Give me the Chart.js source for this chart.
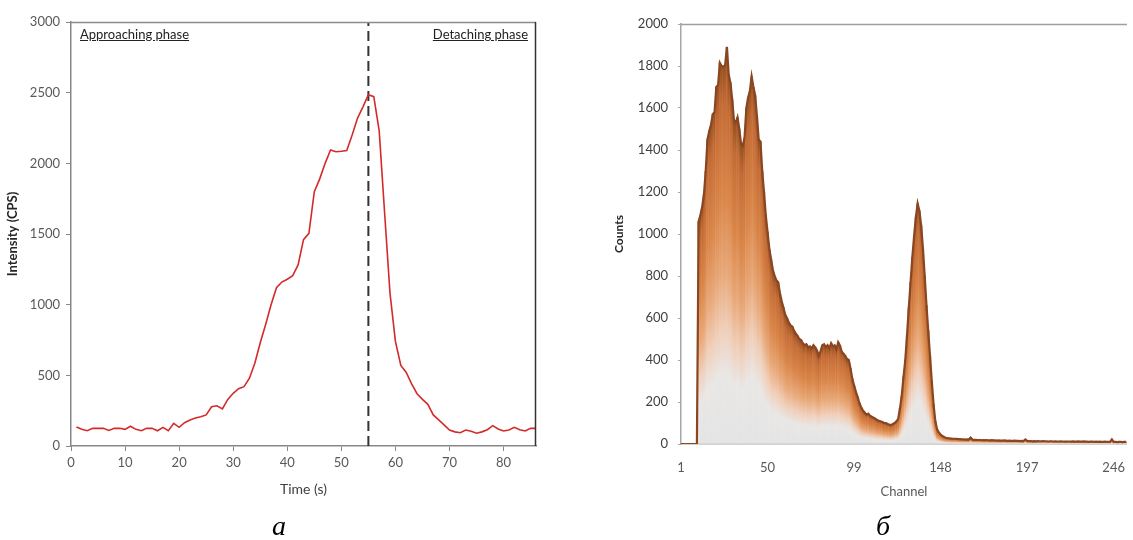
<!DOCTYPE html>
<html><head><meta charset="utf-8">
<script src="https://cdn.jsdelivr.net/npm/chart.js@4.4.0/dist/chart.umd.min.js"></script>
<style>
html,body{margin:0;padding:0;background:#fff;width:1133px;height:540px;overflow:hidden;}
#ca{position:absolute;left:0;top:0;}
#cb{position:absolute;left:566px;top:0;}
.lab{position:absolute;top:512px;font-family:"Liberation Serif";font-style:italic;font-size:28px;color:#000;line-height:1;}
.ann{position:absolute;top:28px;font-family:Lato;font-size:13px;color:#222;text-decoration:underline;line-height:1;}
</style></head>
<body>
<canvas id="ca" width="566" height="540"></canvas>
<canvas id="cb" width="567" height="540"></canvas>
<div class="ann" style="left:80px">Approaching phase</div>
<div class="ann" style="right:605px">Detaching phase</div>
<div class="lab" style="left:272px">а</div>
<div class="lab" style="left:876px">б</div>
<script>
// ---------- chart a data ----------
const timeS = [1,2,3,4,5,6,7,8,9,10,11,12,13,14,15,16,17,18,19,20,21,22,23,24,25,26,27,28,29,30,
  31,32,33,34,35,36,37,38,39,40,41,42,43,44,45,46,47,48,49,50,51,52,53,54,55,56,57,58,59,60,
  61,62,63,64,65,66,67,68,69,70,71,72,73,74,75,76,77,78,79,80,81,82,83,84,85,86];
const intensity = [135,118,108,125,125,125,110,125,125,118,
  140,118,108,125,125,108,132,108,160,132,
  165,184,198,207,220,278,285,262,330,373,
  405,420,480,585,730,860,1000,1120,1160,1180,
  1205,1281,1460,1505,1800,1890,2000,2094,2082,2085,
  2090,2200,2320,2400,2485,2472,2230,1650,1080,740,
  570,520,440,370,330,295,220,185,150,113,
  100,94,113,105,90,100,115,144,120,106,
  113,132,115,106,125,125];
const markerTime = 55;
const timeTicks = [0,10,20,30,40,50,60,70,80];
const intensityTicks = [0,500,1000,1500,2000,2500,3000];

// ---------- chart b data ----------
const counts = [0,0,0,0,0,0,0,0,0,0,
  1060,1090,1130,1190,1300,1450,1490,1520,1570,1580,
  1700,1710,1815,1800,1795,1805,1890,1760,1720,1640,
  1540,1530,1555,1500,1430,1420,1460,1600,1650,1680,
  1750,1700,1660,1560,1450,1440,1300,1200,1090,1010,
  930,880,830,800,780,770,720,680,650,615,
  600,580,565,560,540,525,515,500,495,480,
  470,475,460,465,455,470,460,445,420,440,
  470,475,460,470,455,480,465,470,450,485,
  470,440,430,420,405,400,360,310,280,250,
  225,195,175,160,150,140,145,135,130,125,
  120,115,110,108,105,100,100,95,92,90,
  95,100,108,120,170,230,320,400,520,650,
  770,890,990,1080,1145,1110,1040,930,800,660,
  540,420,300,190,110,70,55,45,38,33,
  30,28,27,26,25,25,24,23,23,22,
  22,21,22,21,30,21,20,20,19,19,
  19,18,18,19,18,17,18,17,17,16,
  17,16,16,17,16,15,16,15,15,16,
  15,15,14,15,14,22,15,14,14,13,
  14,13,14,13,13,14,13,13,12,13,
  13,12,13,12,12,13,12,12,11,12,
  12,11,12,11,11,12,11,11,12,11,
  11,10,11,11,10,11,10,11,10,10,
  11,10,10,10,22,10,10,9,10,10,
  9,10,10];
const channels = counts.map((_, i) => i + 1);
const channelTicks = [1,50,99,148,197,246];
const countTicks = [0,200,400,600,800,1000,1200,1400,1600,1800,2000];

Chart.defaults.font.family = 'Lato';
Chart.defaults.animation = false;
const plain = v => String(v);

const frame = (topColor, rightColor) => ({
  id: 'frame',
  afterDatasetsDraw(chart) {
    const {ctx, chartArea: a} = chart;
    ctx.save();
    ctx.lineWidth = 1.5;
    ctx.strokeStyle = topColor;
    ctx.beginPath(); ctx.moveTo(a.left, a.top + 0.5); ctx.lineTo(a.right, a.top + 0.5); ctx.stroke();
    if (rightColor) {
      ctx.strokeStyle = rightColor;
      ctx.beginPath(); ctx.moveTo(a.right - 0.5, a.top); ctx.lineTo(a.right - 0.5, a.bottom); ctx.stroke();
    }
    ctx.restore();
  }
});

new Chart(document.getElementById('ca'), {
  type: 'line',
  data: {
    datasets: [
      { data: timeS.map((t, i) => ({x: t, y: intensity[i]})), borderColor: '#d42a2a', borderWidth: 1.6,
        pointRadius: 0, tension: 0 },
      { data: [{x: markerTime, y: 0}, {x: markerTime, y: 3000}], borderColor: '#333333', borderWidth: 2,
        borderDash: [10, 5], pointRadius: 0 }
    ]
  },
  options: {
    responsive: false,
    layout: {padding: {top: 22, right: 30, left: 0, bottom: 0}},
    plugins: {legend: {display: false}, tooltip: {enabled: false}},
    scales: {
      x: {
        type: 'linear', min: 0, max: 86,
        afterBuildTicks: s => { s.ticks = timeTicks.map(v => ({value: v})); },
        afterFit: s => { s.height = 94; },
        ticks: {color: '#595959', font: {size: 13}, padding: 4, maxRotation: 0, callback: plain},
        grid: {drawOnChartArea: false, tickLength: 5, color: '#888888'},
        border: {color: '#888888', width: 1.5},
        title: {display: true, text: 'Time (s)', color: '#404040', font: {size: 14}, padding: {top: 0, bottom: 42}}
      },
      y: {
        min: 0, max: 3000,
        afterBuildTicks: s => { s.ticks = intensityTicks.map(v => ({value: v})); },
        afterFit: s => { s.width = 71; },
        ticks: {color: '#595959', font: {size: 13}, padding: 6, callback: plain},
        grid: {drawOnChartArea: false, tickLength: 5, color: '#888888'},
        border: {color: '#888888', width: 1.5},
        title: {display: true, text: 'Intensity (CPS)', color: '#262626', font: {size: 13, weight: 'bold'}, padding: {top: 5, bottom: 0}}
      }
    }
  },
  plugins: [frame('#8c8c8c', '#333333')]
});

const barFill = (context) => {
  const chart = context.chart;
  const {ctx, chartArea, scales} = chart;
  const raw = context.raw;
  if (!chartArea || !raw || !scales.y) return '#e08a55';
  const yb = scales.y.getPixelForValue(0);
  const yt = scales.y.getPixelForValue(raw.y);
  if (yb - yt < 2) return '#e2e2e2';
  const g = ctx.createLinearGradient(0, yb, 0, yt);
  g.addColorStop(0, '#e4e4e4');
  g.addColorStop(0.18, '#e9e7e6');
  g.addColorStop(0.3, '#f0cfba');
  g.addColorStop(0.45, '#e8a878');
  g.addColorStop(0.65, '#da8649');
  g.addColorStop(0.9, '#c46b36');
  g.addColorStop(1, '#94501f');
  return g;
};

new Chart(document.getElementById('cb'), {
  type: 'bar',
  data: {
    datasets: [
      { type: 'line', order: 0, data: channels.map((c, i) => ({x: c, y: counts[i]})),
        borderColor: '#8a4620', borderWidth: 2.2, pointRadius: 0, tension: 0 },
      { type: 'bar', order: 1, data: channels.map((c, i) => ({x: c, y: counts[i]})),
        backgroundColor: barFill, borderWidth: 0, barPercentage: 1, categoryPercentage: 1, inflateAmount: 0.25 }
    ]
  },
  options: {
    responsive: false,
    layout: {padding: {top: 24, right: 1, left: 0, bottom: 0}},
    plugins: {legend: {display: false}, tooltip: {enabled: false}},
    scales: {
      x: {
        type: 'linear', min: 1, max: 253.5, offset: false,
        afterBuildTicks: s => { s.ticks = channelTicks.map(v => ({value: v})); },
        afterFit: s => { s.height = 96; },
        ticks: {color: '#595959', font: {size: 13}, padding: 8, maxRotation: 0, callback: plain},
        grid: {display: false},
        border: {color: '#a6a6a6', width: 1.5},
        title: {display: true, text: 'Channel', color: '#595959', font: {size: 13}, padding: {top: 0, bottom: 40}}
      },
      y: {
        min: 0, max: 2000,
        afterBuildTicks: s => { s.ticks = countTicks.map(v => ({value: v})); },
        afterFit: s => { s.width = 115; },
        ticks: {color: '#404040', font: {size: 13}, padding: 10, callback: plain},
        grid: {drawOnChartArea: false, tickLength: 3, color: '#a6a6a6'},
        border: {color: '#a6a6a6', width: 1.5},
        title: {display: true, text: 'Counts', color: '#262626', font: {size: 12, weight: 'bold'}, padding: {top: 46, bottom: 0}}
      }
    }
  },
  plugins: [frame('#a0a0a0', null)]
});
</script>
</body></html>
